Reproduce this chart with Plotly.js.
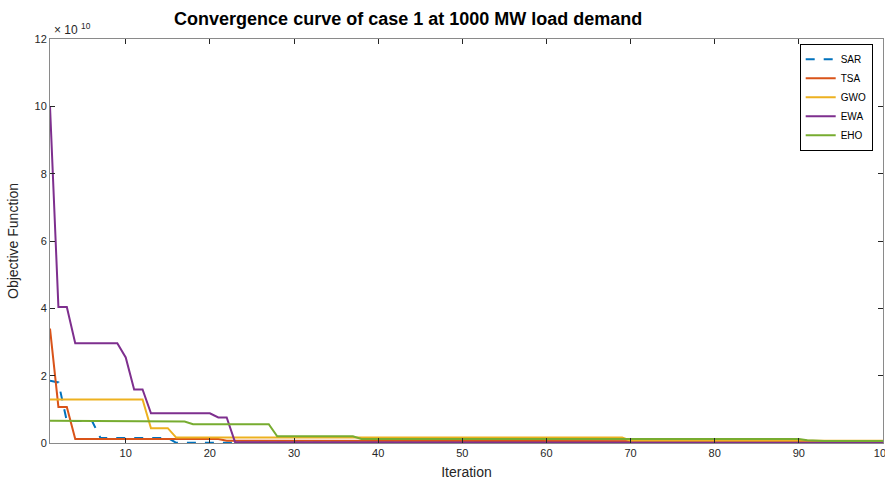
<!DOCTYPE html>
<html>
<head>
<meta charset="utf-8">
<script src="https://cdn.plot.ly/plotly-3.0.1.min.js"></script>
<style>html,body{margin:0;padding:0;background:#fff;}#chart{width:885px;height:481px;}</style>
</head>
<body>
<div id="chart"></div>
<script>
// Objective function values in units of 1e10 (axis multiplier shown as ×10^10)
const iterations = Array.from({length: 100}, (_, i) => i + 1);

const SAR = [
  1.85,1.80,0.65,0.65,0.65,0.65,0.15,0.15,0.15,0.15,
  0.15,0.15,0.15,0.15,0.15,0.005,0.005,0.005,0.005,0.005,
  0.005,0.005,0.005,0.005,0.005,0.005,0.005,0.005,0.005,0.005,
  0.005,0.005,0.005,0.005,0.005,0.005,0.005,0.005,0.005,0.005,
  0.005,0.005,0.005,0.005,0.005,0.005,0.005,0.005,0.005,0.005,
  0.005,0.005,0.005,0.005,0.005,0.005,0.005,0.005,0.005,0.005,
  0.005,0.005,0.005,0.005,0.005,0.005,0.005,0.005,0.005,0.005,
  0.005,0.005,0.005,0.005,0.005,0.005,0.005,0.005,0.005,0.005,
  0.005,0.005,0.005,0.005,0.005,0.005,0.005,0.005,0.005,0.005,
  0.005,0.005,0.005,0.005,0.005,0.005,0.005,0.005,0.005,0.005
];
const TSA = [
  3.40,1.07,1.07,0.12,0.12,0.12,0.12,0.12,0.12,0.12,
  0.12,0.12,0.12,0.12,0.12,0.12,0.12,0.12,0.12,0.12,
  0.12,0.07,0.07,0.07,0.07,0.07,0.07,0.07,0.07,0.07,
  0.07,0.07,0.07,0.07,0.07,0.07,0.07,0.07,0.07,0.07,
  0.07,0.07,0.07,0.07,0.07,0.07,0.07,0.07,0.07,0.07,
  0.07,0.07,0.07,0.07,0.07,0.07,0.07,0.07,0.07,0.07,
  0.07,0.07,0.07,0.07,0.07,0.07,0.07,0.07,0.07,0.07,
  0.07,0.07,0.07,0.05,0.05,0.05,0.05,0.05,0.05,0.05,
  0.05,0.05,0.05,0.05,0.05,0.05,0.05,0.05,0.05,0.05,
  0.05,0.05,0.05,0.05,0.05,0.05,0.05,0.05,0.05,0.05
];
const GWO = [
  1.29,1.29,1.29,1.29,1.29,1.29,1.29,1.29,1.29,1.29,
  1.29,1.29,0.44,0.44,0.44,0.16,0.16,0.16,0.16,0.16,
  0.16,0.16,0.16,0.16,0.16,0.16,0.16,0.16,0.16,0.16,
  0.16,0.16,0.16,0.16,0.16,0.16,0.16,0.16,0.16,0.16,
  0.16,0.16,0.16,0.16,0.16,0.16,0.16,0.16,0.16,0.16,
  0.16,0.16,0.16,0.16,0.16,0.16,0.16,0.16,0.16,0.16,
  0.16,0.16,0.16,0.16,0.16,0.16,0.16,0.16,0.16,0.07,
  0.07,0.07,0.07,0.07,0.07,0.07,0.07,0.07,0.07,0.07,
  0.07,0.07,0.07,0.07,0.07,0.07,0.07,0.07,0.07,0.07,
  0.07,0.07,0.07,0.07,0.07,0.07,0.07,0.07,0.07,0.07
];
const EWA = [
  10.0,4.04,4.04,2.96,2.96,2.96,2.96,2.96,2.96,2.54,
  1.59,1.59,0.88,0.88,0.88,0.88,0.88,0.88,0.88,0.88,
  0.76,0.76,0.02,0.02,0.02,0.02,0.02,0.02,0.02,0.02,
  0.02,0.02,0.02,0.02,0.02,0.02,0.02,0.02,0.02,0.02,
  0.02,0.02,0.02,0.02,0.02,0.02,0.02,0.02,0.02,0.02,
  0.02,0.02,0.02,0.02,0.02,0.02,0.02,0.02,0.02,0.02,
  0.02,0.02,0.02,0.02,0.02,0.02,0.02,0.02,0.02,0.02,
  0.02,0.02,0.02,0.02,0.005,0.005,0.005,0.005,0.005,0.005,
  0.005,0.005,0.005,0.005,0.005,0.005,0.005,0.005,0.005,0.005,
  0.005,0.005,0.005,0.005,0.005,0.005,0.005,0.005,0.005,0.005
];
const EHO = [
  0.66,0.66,0.66,0.66,0.66,0.66,0.66,0.66,0.66,0.64,
  0.64,0.64,0.64,0.64,0.64,0.64,0.64,0.56,0.56,0.56,
  0.56,0.56,0.56,0.56,0.56,0.56,0.56,0.20,0.20,0.20,
  0.20,0.20,0.20,0.20,0.20,0.20,0.20,0.12,0.12,0.12,
  0.12,0.12,0.12,0.12,0.12,0.12,0.12,0.12,0.12,0.12,
  0.12,0.12,0.12,0.12,0.12,0.12,0.12,0.12,0.12,0.12,
  0.12,0.12,0.12,0.12,0.12,0.12,0.12,0.12,0.12,0.12,
  0.12,0.12,0.12,0.12,0.12,0.12,0.12,0.12,0.12,0.12,
  0.12,0.12,0.12,0.12,0.12,0.12,0.12,0.12,0.12,0.12,
  0.08,0.06,0.06,0.06,0.06,0.06,0.06,0.06,0.06,0.06
];

const seriesNames = ['SAR', 'TSA', 'GWO', 'EWA', 'EHO'];
const seriesData = [SAR, TSA, GWO, EWA, EHO];
const seriesColors = ['#0072BD', '#D95319', '#EDB120', '#7E2F8E', '#77AC30'];
const seriesDash = ['dash', 'solid', 'solid', 'solid', 'solid'];

const xTicks = [10, 20, 30, 40, 50, 60, 70, 80, 90, 100];
const yTicks = [0, 2, 4, 6, 8, 10, 12];

const traces = seriesNames.map((name, i) => ({
  x: iterations,
  y: seriesData[i],
  name: name,
  type: 'scatter',
  mode: 'lines',
  line: {color: seriesColors[i], width: 2, dash: seriesDash[i]}
}));

const font = 'Arial, "Liberation Sans", Helvetica, sans-serif';
const layout = {
  width: 885,
  height: 481,
  paper_bgcolor: '#fff',
  plot_bgcolor: '#fff',
  margin: {l: 50, r: 2, t: 39, b: 38},
  font: {family: font, size: 11, color: '#262626'},
  title: {
    text: '<b>Convergence curve of case 1 at 1000 MW load demand</b>',
    font: {family: font, size: 18, color: '#000'},
    x: 0.43, xref: 'paper', xanchor: 'center',
    y: 0.962, yref: 'container', yanchor: 'middle'
  },
  xaxis: {
    range: [1, 100],
    tickvals: xTicks,
    ticktext: xTicks.map(String),
    ticks: 'inside', ticklen: 5, tickcolor: '#262626',
    showline: true, linecolor: '#8a8a8a', linewidth: 1, mirror: 'ticks',
    showgrid: false, zeroline: false,
    ticklabeloverflow: 'allow',
    tickfont: {size: 11, color: '#262626'},
    title: {text: 'Iteration', font: {size: 14, color: '#262626'}, standoff: 8}
  },
  yaxis: {
    range: [0, 12],
    tickvals: yTicks,
    ticktext: yTicks.map(String),
    ticks: 'inside', ticklen: 5, tickcolor: '#262626',
    showline: true, linecolor: '#8a8a8a', linewidth: 1, mirror: 'ticks',
    showgrid: false, zeroline: false,
    ticklabeloverflow: 'allow',
    tickfont: {size: 11, color: '#262626'},
    title: {text: 'Objective Function', font: {size: 14, color: '#262626'}, standoff: 12}
  },
  legend: {
    x: 0.9, y: 0.988, xanchor: 'left', yanchor: 'top',
    bgcolor: '#fff', bordercolor: '#000', borderwidth: 1,
    font: {family: font, size: 10, color: '#000'},
    tracegroupgap: 0
  },
  annotations: [{
    text: '\u00d7 10 <sup>10</sup>',
    xref: 'paper', yref: 'paper', x: 0, y: 1, xanchor: 'left', yanchor: 'bottom',
    xshift: 2, yshift: 0,
    showarrow: false, font: {family: font, size: 12, color: '#262626'}
  }],
  showlegend: true
};

Plotly.newPlot('chart', traces, layout, {displayModeBar: false, staticPlot: true});
</script>
</body>
</html>
